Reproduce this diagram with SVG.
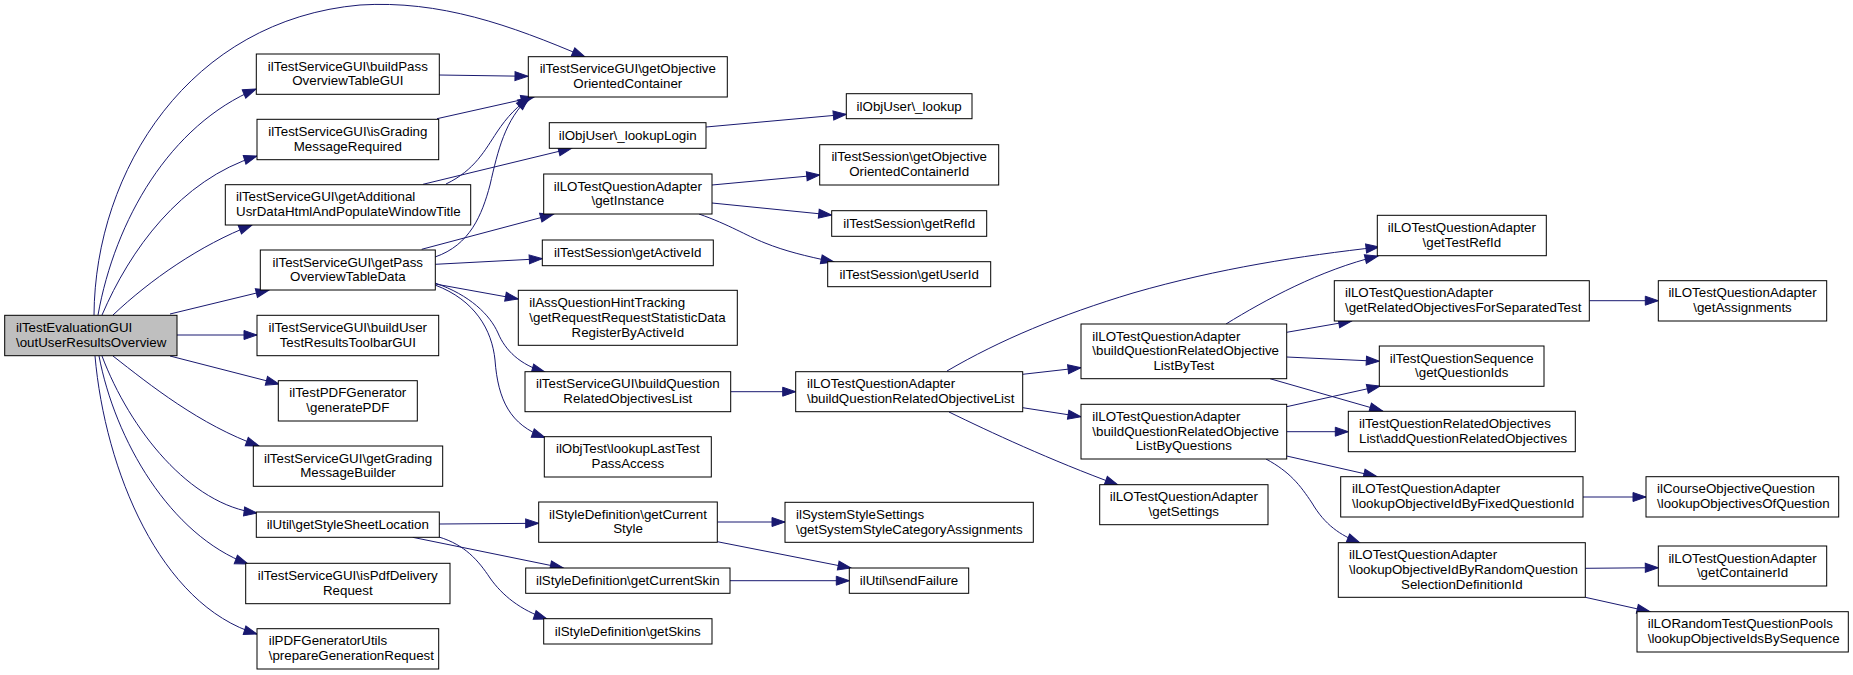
<svg xmlns="http://www.w3.org/2000/svg" width="1853" height="675" viewBox="0 0 1853 675">
<defs>
<marker id="a" markerUnits="userSpaceOnUse" markerWidth="15" markerHeight="11" refX="13" refY="4.5" orient="auto" overflow="visible"><path d="M0,0L13,4.5L0,9z" fill="#191970" stroke="#191970" stroke-width="1"/></marker>
<style>
.n rect{fill:#fff;stroke:#000;stroke-width:1}
.r rect{fill:#bfbfbf}
text{font-family:"Liberation Sans",Arial,Helvetica,sans-serif;font-size:13.33px;fill:#000}
.c text{text-anchor:middle}
text.m{text-anchor:middle}
#edges path{fill:none;stroke:#191970;stroke-width:1;marker-end:url(#a)}
</style>
</defs>
<rect width="1853" height="675" fill="#fff"/>
<g id="edges">
<path d="M94,315 C95,170 190,20 360,5 C440,0 510,25 585,57"/>
<path d="M98,315 C115,220 170,125 256,89"/>
<path d="M102,315 C130,250 180,180 257,156"/>
<path d="M113,315 C150,280 200,245 252,225"/>
<path d="M170,314 L269,290"/>
<path d="M177,335 L257,335"/>
<path d="M170,356 L279,384"/>
<path d="M113,356 C150,385 200,425 259,446"/>
<path d="M102,356 C130,430 190,505 257,513"/>
<path d="M99,356 C115,440 170,535 248,564"/>
<path d="M95,356 C105,470 160,605 257,634"/>
<path d="M439,75 L528,76.3"/>
<path d="M437,118.7 L534,97"/>
<path d="M446,184 C475,170 485,150 497,132 C507,117 518,105 531,97.5"/>
<path d="M435,257 C470,245 482,215 490,185 C498,150 505,120 529,97.5"/>
<path d="M423,184.3 L571.5,148.3"/>
<path d="M421.7,249.3 L553.3,214.3"/>
<path d="M435.3,264.3 L542.3,258.7"/>
<path d="M435.3,284 L518.3,299"/>
<path d="M435,283 C470,295 490,315 498,333 C505,350 520,365 545,372"/>
<path d="M435,285 C475,300 492,330 495,360 C498,400 510,425 545,437.5"/>
<path d="M706,127 L846.3,114.3"/>
<path d="M712,185 L819.7,175"/>
<path d="M712,203 L831.7,215"/>
<path d="M699,214 C730,225 745,235 765,243 C785,251 805,256 834,262"/>
<path d="M439.3,524 L538.7,523.3"/>
<path d="M412.7,537.3 L563.3,568"/>
<path d="M439,537 C465,545 478,560 490,578 C502,595 520,610 547,619"/>
<path d="M717.3,522 L785,522"/>
<path d="M717.3,541.7 L851,568"/>
<path d="M730,580.7 L849.3,580.7"/>
<path d="M730.7,391.7 L795.7,391.7"/>
<path d="M947,371 C1000,340 1060,315 1133,293 C1220,268 1300,256 1379,247"/>
<path d="M1022.7,374.3 L1081,367.7"/>
<path d="M1022.7,407.7 L1081,416.7"/>
<path d="M949,412 C990,432 1050,460 1118,485"/>
<path d="M1226,324 C1265,300 1320,270 1378,256"/>
<path d="M1286.7,332.3 L1351.7,321"/>
<path d="M1286.7,357 L1379.3,361.3"/>
<path d="M1270,378.7 L1382.7,411"/>
<path d="M1286.7,406.7 L1380,386"/>
<path d="M1286.7,431.7 L1348.3,431.7"/>
<path d="M1286.7,456 L1376.7,476.5"/>
<path d="M1266,459 C1290,472 1300,485 1312,503 C1325,525 1340,535 1360,543"/>
<path d="M1589.3,300.7 L1658.3,300.7"/>
<path d="M1583,497 L1646,497"/>
<path d="M1585.3,568.3 L1658.3,567.7"/>
<path d="M1585.3,597.3 L1650,611.7"/>
</g>
<g id="n0" class="n r"><rect x="4.7" y="315.3" width="172.3" height="40.4"/><text x="16" y="332">ilTestEvaluationGUI</text><text x="16" y="346.7">\outUserResultsOverview</text></g>
<g id="n1" class="n c"><rect x="256.3" y="54" width="183" height="40.3"/><text x="347.8" y="70.7">ilTestServiceGUI\buildPass</text><text x="347.8" y="85.4">OverviewTableGUI</text></g>
<g id="n2" class="n c"><rect x="257" y="119.3" width="181.7" height="40.4"/><text x="347.8" y="136">ilTestServiceGUI\isGrading</text><text x="347.8" y="150.7">MessageRequired</text></g>
<g id="n3" class="n"><rect x="225.3" y="184.7" width="245.4" height="40.3"/><text x="236" y="201.3">ilTestServiceGUI\getAdditional</text><text x="236" y="216">UsrDataHtmlAndPopulateWindowTitle</text></g>
<g id="n4" class="n c"><rect x="260.3" y="250" width="175" height="40"/><text x="347.8" y="266.5">ilTestServiceGUI\getPass</text><text x="347.8" y="281.2">OverviewTableData</text></g>
<g id="n5" class="n c"><rect x="257" y="315.3" width="181.7" height="40.4"/><text x="347.8" y="332">ilTestServiceGUI\buildUser</text><text x="347.8" y="346.7">TestResultsToolbarGUI</text></g>
<g id="n6" class="n c"><rect x="278.3" y="380.7" width="139" height="40.3"/><text x="347.8" y="397.3">ilTestPDFGenerator</text><text x="347.8" y="412">\generatePDF</text></g>
<g id="n7" class="n c"><rect x="253.3" y="446" width="189.4" height="40.3"/><text x="348" y="462.7">ilTestServiceGUI\getGrading</text><text x="348" y="477.4">MessageBuilder</text></g>
<g id="n8" class="n c"><rect x="256.3" y="512" width="183" height="25.3"/><text x="347.8" y="529">ilUtil\getStyleSheetLocation</text></g>
<g id="n9" class="n c"><rect x="245.7" y="563.3" width="204.3" height="40.4"/><text x="347.8" y="580">ilTestServiceGUI\isPdfDelivery</text><text x="347.8" y="594.7">Request</text></g>
<g id="n10" class="n"><rect x="257" y="628.7" width="181.7" height="40.3"/><text x="268.7" y="645.3">ilPDFGeneratorUtils</text><text x="268.7" y="660">\prepareGenerationRequest</text></g>
<g id="n11" class="n c"><rect x="528.3" y="56.7" width="199" height="40.3"/><text x="627.8" y="73.3">ilTestServiceGUI\getObjective</text><text x="627.8" y="88">OrientedContainer</text></g>
<g id="n12" class="n c"><rect x="549.3" y="122.7" width="156.7" height="25.6"/><text x="627.7" y="140">ilObjUser\_lookupLogin</text></g>
<g id="n13" class="n c"><rect x="543.7" y="174" width="168.3" height="40"/><text x="627.8" y="190.5">ilLOTestQuestionAdapter</text><text x="627.8" y="205.2">\getInstance</text></g>
<g id="n14" class="n c"><rect x="542.3" y="240" width="171" height="25.7"/><text x="627.8" y="257.2">ilTestSession\getActiveId</text></g>
<g id="n15" class="n"><rect x="518.3" y="290.3" width="219" height="55"/><text x="529.3" y="307.1">ilAssQuestionHintTracking</text><text x="529.3" y="321.8">\getRequestRequestStatisticData</text><text class="m" x="627.8" y="336.5">RegisterByActiveId</text></g>
<g id="n16" class="n c"><rect x="525" y="371.7" width="205.7" height="40"/><text x="627.8" y="388.2">ilTestServiceGUI\buildQuestion</text><text x="627.8" y="402.9">RelatedObjectivesList</text></g>
<g id="n17" class="n c"><rect x="544.3" y="436.7" width="167" height="40.3"/><text x="627.8" y="453.3">ilObjTest\lookupLastTest</text><text x="627.8" y="468">PassAccess</text></g>
<g id="n18" class="n c"><rect x="538.7" y="502" width="178.6" height="40.3"/><text x="628" y="518.7">ilStyleDefinition\getCurrent</text><text x="628" y="533.4">Style</text></g>
<g id="n19" class="n c"><rect x="525.7" y="568" width="204.3" height="25.3"/><text x="627.8" y="585">ilStyleDefinition\getCurrentSkin</text></g>
<g id="n20" class="n c"><rect x="543.7" y="618.7" width="168.3" height="25.3"/><text x="627.8" y="635.7">ilStyleDefinition\getSkins</text></g>
<g id="n21" class="n c"><rect x="846.3" y="93.7" width="125.7" height="25"/><text x="909.2" y="110.5">ilObjUser\_lookup</text></g>
<g id="n22" class="n c"><rect x="819.7" y="144.7" width="179" height="40.3"/><text x="909.2" y="161.3">ilTestSession\getObjective</text><text x="909.2" y="176">OrientedContainerId</text></g>
<g id="n23" class="n c"><rect x="831.7" y="210.7" width="155" height="25.6"/><text x="909.2" y="227.8">ilTestSession\getRefId</text></g>
<g id="n24" class="n c"><rect x="827.7" y="261.7" width="163" height="25"/><text x="909.2" y="278.5">ilTestSession\getUserId</text></g>
<g id="n25" class="n"><rect x="795.7" y="371.7" width="227" height="40"/><text x="807" y="388.2">ilLOTestQuestionAdapter</text><text x="807" y="402.9">\buildQuestionRelatedObjectiveList</text></g>
<g id="n26" class="n"><rect x="785" y="502.3" width="248.3" height="40"/><text x="796" y="518.8">ilSystemStyleSettings</text><text x="796" y="533.5">\getSystemStyleCategoryAssignments</text></g>
<g id="n27" class="n c"><rect x="849.3" y="568" width="119.4" height="25.3"/><text x="909" y="585">ilUtil\sendFailure</text></g>
<g id="n28" class="n"><rect x="1081" y="324" width="205.7" height="54.7"/><text x="1092.3" y="340.6">ilLOTestQuestionAdapter</text><text x="1092.3" y="355.3">\buildQuestionRelatedObjective</text><text class="m" x="1183.8" y="370">ListByTest</text></g>
<g id="n29" class="n"><rect x="1081" y="404.3" width="205.7" height="54.7"/><text x="1092.3" y="421">ilLOTestQuestionAdapter</text><text x="1092.3" y="435.7">\buildQuestionRelatedObjective</text><text class="m" x="1183.8" y="450.4">ListByQuestions</text></g>
<g id="n30" class="n c"><rect x="1099.7" y="484.7" width="168.3" height="40"/><text x="1183.8" y="501.2">ilLOTestQuestionAdapter</text><text x="1183.8" y="515.9">\getSettings</text></g>
<g id="n31" class="n c"><rect x="1377.3" y="215.3" width="169" height="40.4"/><text x="1461.8" y="232">ilLOTestQuestionAdapter</text><text x="1461.8" y="246.7">\getTestRefId</text></g>
<g id="n32" class="n"><rect x="1334.3" y="280.7" width="255" height="40.3"/><text x="1345" y="297.3">ilLOTestQuestionAdapter</text><text x="1345" y="312">\getRelatedObjectivesForSeparatedTest</text></g>
<g id="n33" class="n c"><rect x="1379.3" y="346" width="164.7" height="40.3"/><text x="1461.7" y="362.7">ilTestQuestionSequence</text><text x="1461.7" y="377.4">\getQuestionIds</text></g>
<g id="n34" class="n"><rect x="1348.3" y="411.3" width="227" height="40.4"/><text x="1359" y="428">ilTestQuestionRelatedObjectives</text><text x="1359" y="442.7">List\addQuestionRelatedObjectives</text></g>
<g id="n35" class="n"><rect x="1340.7" y="476.7" width="242.3" height="40.3"/><text x="1352" y="493.3">ilLOTestQuestionAdapter</text><text x="1352" y="508">\lookupObjectiveIdByFixedQuestionId</text></g>
<g id="n36" class="n"><rect x="1338.3" y="542.7" width="247" height="54.6"/><text x="1349" y="559.3">ilLOTestQuestionAdapter</text><text x="1349" y="574">\lookupObjectiveIdByRandomQuestion</text><text class="m" x="1461.8" y="588.7">SelectionDefinitionId</text></g>
<g id="n37" class="n c"><rect x="1658.3" y="280.7" width="168.4" height="40.3"/><text x="1742.5" y="297.3">ilLOTestQuestionAdapter</text><text x="1742.5" y="312">\getAssignments</text></g>
<g id="n38" class="n"><rect x="1646" y="476.7" width="192.7" height="40.3"/><text x="1657" y="493.3">ilCourseObjectiveQuestion</text><text x="1657" y="508">\lookupObjectivesOfQuestion</text></g>
<g id="n39" class="n c"><rect x="1658.3" y="546" width="168.4" height="40"/><text x="1742.5" y="562.5">ilLOTestQuestionAdapter</text><text x="1742.5" y="577.2">\getContainerId</text></g>
<g id="n40" class="n"><rect x="1637" y="611.7" width="211.3" height="40.3"/><text x="1647.7" y="628.3">ilLORandomTestQuestionPools</text><text x="1647.7" y="643">\lookupObjectiveIdsBySequence</text></g>
</svg>
